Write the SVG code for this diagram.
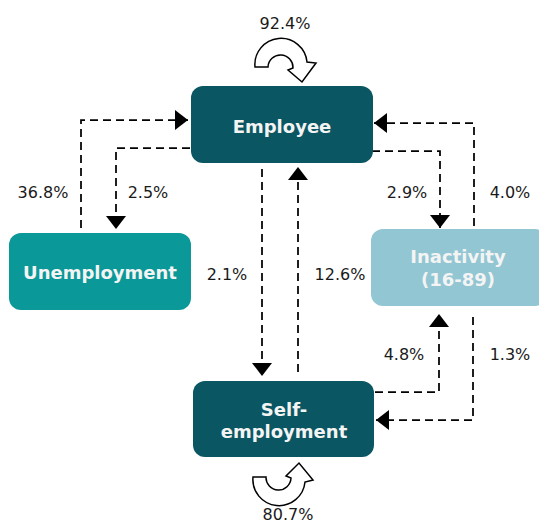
<svg xmlns="http://www.w3.org/2000/svg" width="539" height="525" viewBox="0 0 539 525">
<style>
.box-dark{fill:#0b5663}
.box-teal{fill:#0a9898}
.box-light{fill:#92c6d3}
.ntext{font-family:"DejaVu Sans",Verdana,sans-serif;font-weight:bold;font-size:18px;fill:#f4f4f4;text-anchor:middle}
.lbl{font-family:"DejaVu Sans",Verdana,sans-serif;font-size:16px;fill:#1a1a1a;text-anchor:middle}
.conn{fill:none;stroke:#000;stroke-width:1.75;stroke-dasharray:8,5}
.uturn{fill:#fff;stroke:#000;stroke-width:1.5;stroke-linejoin:miter}
</style>
<defs>
<marker id="ah" viewBox="0 0 13 20" refX="13" refY="10" markerWidth="13" markerHeight="20" markerUnits="userSpaceOnUse" orient="auto">
<path d="M0,0 L13,10 L0,20 Z" fill="#000"/>
</marker>
</defs>
<g id="connectors">
<path class="conn" d="M81,228 V120 H188" marker-end="url(#ah)"/>
<path class="conn" d="M190,148 H116 V229" marker-end="url(#ah)"/>
<path class="conn" d="M372,151 H440 V228" marker-end="url(#ah)"/>
<path class="conn" d="M474,226 V123 H374" marker-end="url(#ah)"/>
<path class="conn" d="M262,169 V376" marker-end="url(#ah)"/>
<path class="conn" d="M298,372 V167" marker-end="url(#ah)"/>
<path class="conn" d="M375,392 H439 V314" marker-end="url(#ah)"/>
<path class="conn" d="M473,317 V420 H376" marker-end="url(#ah)"/>
</g>
<g id="labels">
<text class="lbl" x="285" y="29">92.4%</text>
<text class="lbl" x="43" y="198">36.8%</text>
<text class="lbl" x="148" y="198">2.5%</text>
<text class="lbl" x="407" y="198">2.9%</text>
<text class="lbl" x="510" y="198">4.0%</text>
<text class="lbl" x="227" y="280">2.1%</text>
<text class="lbl" x="340" y="280">12.6%</text>
<text class="lbl" x="404" y="360">4.8%</text>
<text class="lbl" x="510" y="360">1.3%</text>
<text class="lbl" x="288" y="520">80.7%</text>
</g>
<g id="loop-employee">
<path class="uturn" d="M255,67 A26,26 0 0 1 307,62 L316,63 L302,82 L288,70 L293,68 A12.5,12.5 0 0 0 268,67 Z"/>
</g>
<g id="loop-self">
<path class="uturn" d="M253,477 A26,26 0 0 0 305,482 L313,480 L299,463 L286,476 L291,478 A12.5,12.5 0 0 1 266,477 Z"/>
</g>
<g id="employee">
<rect class="box-dark" x="191" y="86" width="182" height="77" rx="12"/>
<text class="ntext" x="282" y="133">Employee</text>
</g>
<g id="unemployment">
<rect class="box-teal" x="9" y="233" width="182" height="77" rx="12"/>
<text class="ntext" x="100" y="279">Unemployment</text>
</g>
<g id="inactivity">
<rect class="box-light" x="371" y="229" width="176" height="77" rx="12"/>
<text class="ntext" x="458" y="263">Inactivity</text>
<text class="ntext" x="458" y="286">(16-89)</text>
</g>
<g id="self-employment">
<rect class="box-dark" x="193" y="381" width="181" height="76" rx="12"/>
<text class="ntext" x="284" y="416">Self-</text>
<text class="ntext" x="284" y="438">employment</text>
</g>
</svg>
